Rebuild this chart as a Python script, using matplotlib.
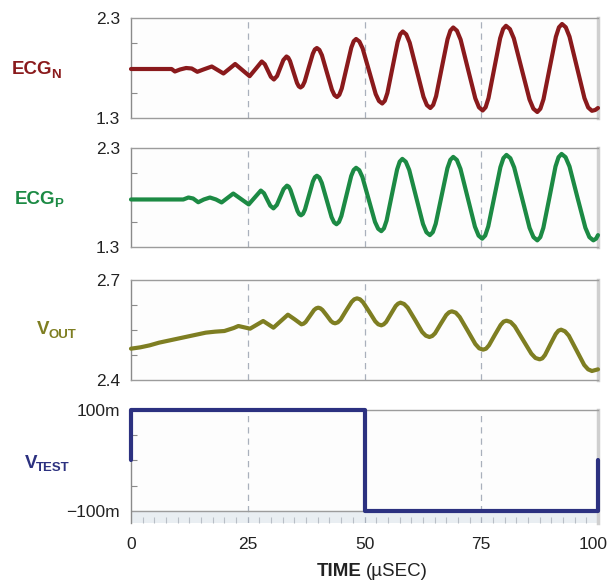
import matplotlib
matplotlib.use("Agg")
import matplotlib.pyplot as plt
from matplotlib import font_manager
from matplotlib.ticker import FixedLocator, MultipleLocator
from matplotlib.transforms import ScaledTranslation

# ---- data (time in microseconds) ----
ecgn_t = [0, 8.7, 9.4, 10.5, 11.8, 13.0, 14.2, 15.5, 17.3, 19.8, 21.05, 22.3, 23.85, 25.4, 26.7,
          28.0, 28.65, 29.3, 29.95, 30.6, 31.28, 31.95, 32.63, 33.3,
          33.675, 34.05, 34.8, 35.55, 35.925, 36.3,
          36.74, 37.18, 38.05, 38.93, 39.36, 39.8,
          40.34, 40.88, 41.95, 43.03, 43.56, 44.1,
          44.61, 45.13, 46.15, 47.18, 47.69, 48.2,
          48.9, 49.6, 51.0, 52.4, 53.1, 53.8,
          54.35, 54.9, 56.0, 57.1, 57.65, 58.2,
          58.94, 59.68, 61.15, 62.63, 63.36, 64.1,
          64.71, 65.33, 66.55, 67.78, 68.39, 69.0,
          69.79, 70.58, 72.15, 73.73, 74.51, 75.3,
          75.93, 76.55, 77.8, 79.05, 79.68, 80.3,
          81.14, 81.98, 83.65, 85.33, 86.16, 87.0,
          87.66, 88.33, 89.65, 90.98, 91.64, 92.3,
          93.1, 93.9, 95.5, 97.1, 97.9, 98.7,
          99.4, 100]
ecgn_v = [1.79, 1.79, 1.765, 1.785, 1.80, 1.795, 1.762, 1.785, 1.815, 1.745, 1.792, 1.84, 1.779, 1.718, 1.791,
          1.865, 1.838, 1.775, 1.712, 1.685, 1.72, 1.80, 1.88, 1.915,
          1.903, 1.870, 1.76, 1.650, 1.617, 1.605,
          1.620, 1.663, 1.803, 1.942, 1.985, 2.0,
          1.981, 1.928, 1.755, 1.582, 1.529, 1.51,
          1.532, 1.595, 1.80, 2.005, 2.068, 2.09,
          2.065, 1.996, 1.768, 1.539, 1.470, 1.445,
          1.472, 1.550, 1.805, 2.060, 2.138, 2.165,
          2.136, 2.053, 1.783, 1.512, 1.429, 1.40,
          1.431, 1.518, 1.803, 2.087, 2.174, 2.205,
          2.173, 2.084, 1.79, 1.496, 1.407, 1.375,
          1.407, 1.499, 1.799, 2.098, 2.190, 2.222,
          2.189, 2.096, 1.791, 1.486, 1.393, 1.36,
          1.393, 1.488, 1.80, 2.112, 2.207, 2.24,
          2.207, 2.113, 1.806, 1.499, 1.405, 1.372,
          1.38, 1.40]

ecgp_t = [0, 11.2, 12.3, 13.3, 14.4, 15.6, 16.9, 18.2, 19.4, 20.65, 21.9, 23.55, 25.2, 26.5,
          27.8, 28.48, 29.15, 29.83, 30.5, 31.23, 31.95, 32.68, 33.4,
          33.78, 34.15, 34.9, 35.65, 36.03, 36.4,
          36.83, 37.25, 38.1, 38.95, 39.38, 39.8,
          40.33, 40.85, 41.9, 42.95, 43.48, 44.0,
          44.53, 45.05, 46.1, 47.15, 47.68, 48.2,
          48.88, 49.55, 50.9, 52.25, 52.93, 53.6,
          54.16, 54.73, 55.85, 56.98, 57.54, 58.1,
          58.84, 59.58, 61.05, 62.53, 63.26, 64.0,
          64.63, 65.25, 66.5, 67.75, 68.38, 69.0,
          69.78, 70.55, 72.1, 73.65, 74.43, 75.2,
          75.85, 76.5, 77.8, 79.1, 79.75, 80.4,
          81.23, 82.05, 83.7, 85.35, 86.18, 87.0,
          87.65, 88.3, 89.6, 90.9, 91.55, 92.2,
          93.05, 93.9, 95.6, 97.3, 98.15, 99.0,
          99.6, 100]
ecgp_v = [1.78, 1.78, 1.80, 1.79, 1.752, 1.78, 1.80, 1.78, 1.75, 1.795, 1.84, 1.785, 1.73, 1.80,
          1.87, 1.843, 1.78, 1.717, 1.69, 1.725, 1.805, 1.885, 1.92,
          1.909, 1.876, 1.77, 1.664, 1.631, 1.62,
          1.635, 1.678, 1.82, 1.962, 2.005, 2.02,
          2.001, 1.948, 1.775, 1.602, 1.549, 1.53,
          1.552, 1.613, 1.815, 2.017, 2.078, 2.10,
          2.076, 2.007, 1.78, 1.553, 1.484, 1.46,
          1.488, 1.567, 1.825, 2.083, 2.162, 2.19,
          2.161, 2.078, 1.805, 1.532, 1.449, 1.42,
          1.45, 1.535, 1.815, 2.095, 2.18, 2.21,
          2.179, 2.089, 1.797, 1.505, 1.415, 1.384,
          1.416, 1.508, 1.807, 2.106, 2.198, 2.23,
          2.197, 2.104, 1.80, 1.493, 1.40, 1.367,
          1.40, 1.494, 1.80, 2.113, 2.207, 2.24,
          2.207, 2.113, 1.80, 1.494, 1.40, 1.367,
          1.385, 1.42]

vout_t = [0, 2, 4, 6, 8, 10, 12, 14, 16, 18, 20, 22, 23.0, 25.5, 28.3, 30.5, 33.6, 35.05,
          36.5, 36.95, 37.4, 38.3, 39.2, 39.65,
          40.1, 40.55, 41.0, 41.9, 42.8, 43.25,
          43.7, 44.29, 44.88, 46.05, 47.23, 47.81,
          48.4, 49.05, 49.7, 51.0, 52.3, 52.95,
          53.6, 54.11, 54.63, 55.65, 56.68, 57.19,
          57.7, 58.48, 59.25, 60.8, 62.35, 63.13,
          63.9, 64.5, 65.1, 66.3, 67.5, 68.1,
          68.7, 69.54, 70.38, 72.05, 73.73, 74.56,
          75.4, 76.03, 76.65, 77.9, 79.15, 79.78,
          80.4, 81.29, 82.18, 83.95, 85.73, 86.61,
          87.5, 88.08, 88.65, 89.8, 90.95, 91.53,
          92.1, 92.93, 93.75, 95.4, 97.05, 97.88,
          98.7, 100]
vout_v = [2.494, 2.498, 2.504, 2.512, 2.518, 2.524, 2.53, 2.536, 2.542, 2.545, 2.547, 2.556, 2.562,
          2.554, 2.577, 2.557, 2.596, 2.582,
          2.567, 2.569, 2.574, 2.592, 2.610, 2.615,
          2.617, 2.615, 2.61, 2.594, 2.577, 2.572,
          2.57, 2.573, 2.581, 2.608, 2.634, 2.642,
          2.645, 2.642, 2.633, 2.605, 2.576, 2.567,
          2.564, 2.567, 2.574, 2.598, 2.622, 2.629,
          2.632, 2.628, 2.617, 2.581, 2.544, 2.533,
          2.529, 2.532, 2.540, 2.568, 2.595, 2.603,
          2.606, 2.602, 2.589, 2.549, 2.508, 2.495,
          2.491, 2.494, 2.504, 2.535, 2.565, 2.575,
          2.578, 2.574, 2.561, 2.52, 2.479, 2.466,
          2.462, 2.465, 2.475, 2.507, 2.538, 2.548,
          2.551, 2.546, 2.533, 2.489, 2.445, 2.432,
          2.427, 2.432]

vtest_t = [0, 0, 50, 50, 100, 100]
vtest_v = [0.0, 0.1, 0.1, -0.1, -0.1, 0.0]

time_ticks = [0, 25, 50, 75, 100]
time_ticklabels = ["0", "25", "50", "75", "100"]

# ---- fonts ----
available = {f.name for f in font_manager.fontManager.ttflist}
label_font = "Liberation Sans Narrow" if "Liberation Sans Narrow" in available else "Liberation Sans"
plt.rcParams["font.family"] = ["Liberation Sans", "DejaVu Sans"]

C_N = "#8a1a1c"
C_P = "#1c8a44"
C_O = "#7e7e22"
C_T = "#2c3180"
SPINE = "#9c9c9c"
GRID = "#a9b0bc"

fig = plt.figure(figsize=(6.09, 5.82), dpi=100)
W = 609.0
H = 582.0
left = 131 / W
width = 467 / W


def make_axes(top_px, bottom_px):
    return fig.add_axes([left, 1 - bottom_px / H, width, (bottom_px - top_px) / H])


ax1 = make_axes(18, 118)
ax2 = make_axes(148, 247)
ax3 = make_axes(280, 380)
ax4 = make_axes(410, 523)

panels = [
    (ax1, ecgn_t, ecgn_v, C_N, (1.3, 2.3), [1.3, 2.3], ["1.3", "2.3"]),
    (ax2, ecgp_t, ecgp_v, C_P, (1.3, 2.3), [1.3, 2.3], ["1.3", "2.3"]),
    (ax3, vout_t, vout_v, C_O, (2.4, 2.7), [2.4, 2.7], ["2.4", "2.7"]),
    (ax4, vtest_t, vtest_v, C_T, (-0.124, 0.1), [-0.1, 0.1], ["\u2212100m", "100m"]),
]

for ax, t, v, c, ylim, yt, ytl in panels:
    ax.set_facecolor("#fdfdfd")
    ax.set_xlim(0, 100)
    ax.set_ylim(*ylim)
    for x in time_ticks[1:-1]:
        ax.axvline(x, color=GRID, lw=0.9, ls=(0, (5, 4)), zorder=1)
    ax.plot(t, v, color=c, lw=3.0, solid_joinstyle="round", solid_capstyle="round",
            zorder=3, clip_on=False)
    for s in ("top", "bottom"):
        ax.spines[s].set_color(SPINE)
        ax.spines[s].set_linewidth(1.0)
    ax.spines["left"].set_color("#8a8a8a")
    ax.spines["left"].set_linewidth(1.0)
    ax.spines["right"].set_color("#cfcfcf")
    ax.spines["right"].set_linewidth(2.5)
    ax.set_yticks(yt)
    ax.set_yticklabels(ytl)
    ax.tick_params(axis="y", which="major", length=0, pad=8, labelsize=12.5, labelcolor="#222222")
    lo, hi = yt
    ax.yaxis.set_minor_locator(FixedLocator([lo + (hi - lo) * k / 4 for k in (1, 2, 3)]))
    ax.tick_params(axis="y", which="minor", direction="in", length=4, width=0.8, color="#8a8a8a")

for ax in (ax1, ax2, ax3):
    ax.set_xticks([])

# lower panel: band below the -100m level with fine time ticks
ax4.spines["bottom"].set_visible(False)
ax4.axhspan(-0.124, -0.1, color="#e9eef2", zorder=0)
ax4.axhline(-0.1, color=SPINE, lw=1.0, zorder=2)
ax4.set_xticks(time_ticks)
ax4.set_xticklabels(time_ticklabels)
ax4.tick_params(axis="x", which="major", length=0, pad=10, labelsize=12.5, labelcolor="#222222")
ax4.xaxis.set_minor_locator(MultipleLocator(2.5))
ax4.tick_params(axis="x", which="minor", direction="in", length=4, width=0.8, color="#b8bec6")
last = ax4.get_xticklabels()[-1]
last.set_transform(last.get_transform() + ScaledTranslation(-5 / 100, 0, fig.dpi_scale_trans))


# side labels with subscripts
def side_label(x_px, y_px, main, sub, color):
    t = fig.text(x_px / W, 1 - y_px / H, main, color=color, fontsize=13.5, fontweight="bold",
                 family=[label_font, "DejaVu Sans"], ha="left", va="center")
    ax4.annotate(sub, xy=(1.0, 0.0), xycoords=t, xytext=(-1.0, 0.5),
                 textcoords="offset points", color=color, fontsize=9.5,
                 fontweight="bold", family=[label_font, "DejaVu Sans"],
                 ha="left", va="baseline", annotation_clip=False)


side_label(12, 70, "ECG", "N", C_N)
side_label(15, 199, "ECG", "P", C_P)
side_label(37, 330, "V", "OUT", C_O)
side_label(25, 463, "V", "TEST", C_T)

# axis title
fig.text(362 / W, 1 - 572 / H, "TIME", fontsize=13.5, fontweight="bold",
         color="#222222", ha="right", va="center")
fig.text(366 / W, 1 - 572 / H, "(\u00b5SEC)", fontsize=13.5,
         color="#222222", ha="left", va="center")

fig.savefig("out.png", dpi=100, facecolor="white")
